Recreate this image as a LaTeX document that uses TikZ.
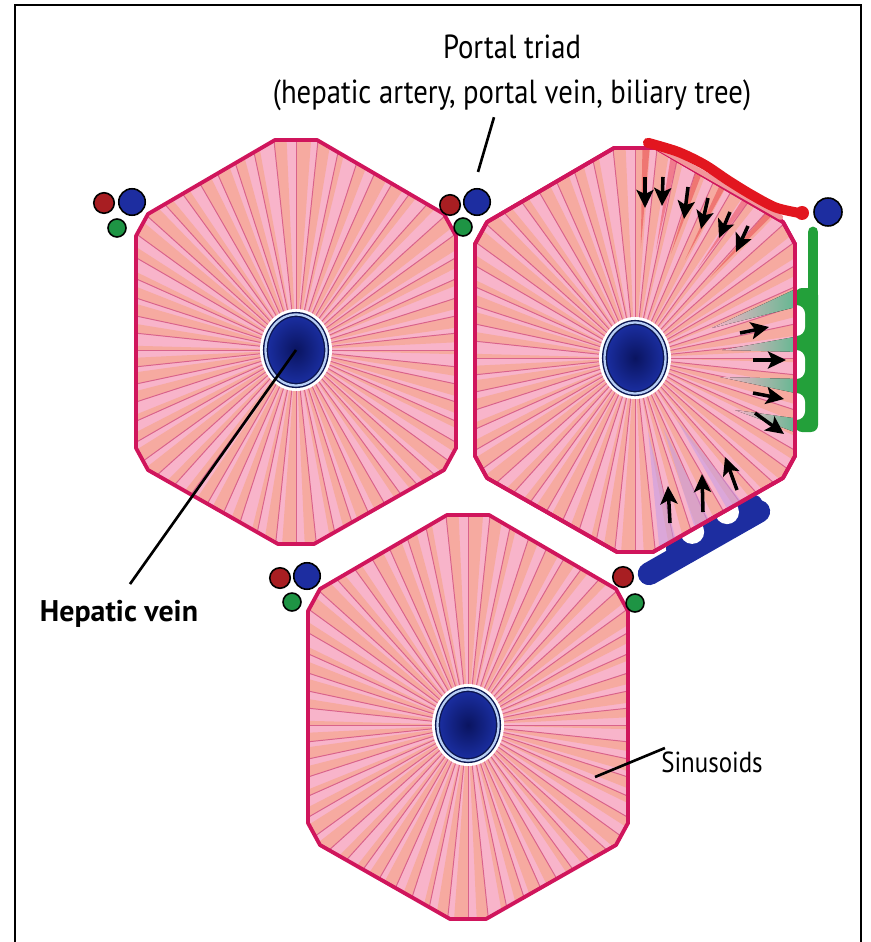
\documentclass[tikz,border=0pt]{standalone}
\usepackage{fontspec}
\setmainfont{PT Sans}
\newfontfamily\narrowsans[FakeStretch=0.86]{PT Sans}
\usetikzlibrary{shapes.geometric,arrows.meta,calc}

\definecolor{LobulePink}{HTML}{F8B4CA}
\definecolor{LobuleSalmon}{HTML}{F6AAA0}
\definecolor{SinusoidLine}{HTML}{D9628B}
\definecolor{LobuleEdge}{HTML}{D0155C}
\definecolor{VeinBlue}{HTML}{1B2FA3}
\definecolor{VeinDark}{HTML}{0A1460}
\definecolor{VeinNavy}{HTML}{0C1650}
\definecolor{VeinRing}{HTML}{B8CFF5}
\definecolor{ArteryRed}{HTML}{A81E22}
\definecolor{PortalBlue}{HTML}{1D2DA0}
\definecolor{DuctGreen}{HTML}{1E9444}
\definecolor{FlowRed}{HTML}{E2161F}
\definecolor{FlowGreen}{HTML}{23A03A}
\definecolor{FlowTeal}{HTML}{5CB88E}
\definecolor{FlowViolet}{HTML}{C49DE6}

% lobule outline, centred on the lobule
\newcommand{\hexoutline}{(-21,-202) -- (21,-202) -- (148,-128) -- (160,-106) -- (160,106) -- (148,128) -- (18,202) -- (-18,202) -- (-148,128) -- (-160,106) -- (-160,-106) -- (-148,-128) -- cycle}

% one lobule: fill, radiating sinusoids, border and central vein
\newcommand{\lobule}[2]{%
	\begin{scope}[shift={(#2)}]
		\fill[lobule fill] \hexoutline;
		\begin{scope}
			\clip \hexoutline;
			\begin{scope}[shift={(0,8)}]
				\foreach \a in {0,6,...,354}{
					\pgfmathsetmacro{\angb}{\a+1.5+2.6*abs(sin(\a*37))}
					\fill[sinusoid band] (0,0) -- (\a:260) -- (\angb:260) -- cycle;
					\draw[sinusoid line] (\a:30) -- (\a:260);
				}
			\end{scope}
		\end{scope}
		\draw[lobule edge] \hexoutline;
		\fill[white] (0,8) ellipse [x radius=36, y radius=41];
		\node[central vein] (#1) at (0,8) {};
	\end{scope}}

\begin{document}
\begin{tikzpicture}[
	x=0.02cm, y=-0.02cm,
	lobule fill/.style={fill=LobulePink},
	sinusoid band/.style={fill=LobuleSalmon},
	sinusoid line/.style={draw=SinusoidLine, line width=0.55pt},
	lobule edge/.style={draw=LobuleEdge, line width=2.2pt, line join=round},
	central vein/.style={
		ellipse,
		minimum width=1.22cm,
		minimum height=1.42cm,
		inner sep=0,
		draw=VeinNavy,
		line width=0.8pt,
		double=VeinRing,
		double distance=1.3pt,
		inner color=VeinDark,
		outer color=VeinBlue
	},
	artery/.style={circle, draw=black, line width=0.9pt, fill=ArteryRed, minimum size=0.41cm, inner sep=0},
	portal/.style={circle, draw=black, line width=0.9pt, fill=PortalBlue, minimum size=0.53cm, inner sep=0},
	duct/.style={circle, draw=black, line width=0.9pt, fill=DuctGreen, minimum size=0.36cm, inner sep=0},
	flow arrow/.style={-{Stealth[length=3.6mm,width=3.4mm,inset=0.8mm]}, line width=2pt},
	leader/.style={draw=black, line width=1.5pt},
	label text/.style={font=\narrowsans\fontsize{19}{25.5}\selectfont, inner sep=0, align=center},
	frame/.style={draw=black, line width=1.2pt}
	]
	
	% ================= FRAME =================
	\useasboundingbox (0,0) rectangle (870,942);
	\draw[frame] (15,960) -- (15,5) -- (861,5) -- (861,960);
	
	% ================= VESSELS UNDER THE RIGHT LOBULE =================
	% portal vein branch
	\draw[PortalBlue, line width=13pt, line cap=round] (649.2,573.7) -- (758.7,511.4);
	\fill[PortalBlue, rounded corners=4pt] (663.4,546.1) -- (757.3,492.6) -- (765.7,507.4) -- (671.8,560.9) -- cycle;
	\fill[white] (692.2,531.9) circle [radius=12] (727.0,512.1) circle [radius=12];
	% bile duct branch
	\fill[FlowGreen, rounded corners=4pt] (795,288) rectangle (818,432);
	\draw[FlowGreen, line width=6.2pt, line cap=round] (813,232) -- (813,420);
	\fill[white, rounded corners=5pt] (787,305) rectangle (805,336);
	\fill[white, rounded corners=5pt] (787,350) rectangle (805,379);
	\fill[white, rounded corners=5pt] (787,393) rectangle (805,420);
	
	% ================= LOBULES =================
	\lobule{vl}{296,342}
	\lobule{vr}{635,350}
	\lobule{vb}{468,717}
	
	% ================= FLOW IN THE RIGHT LOBULE =================
	\begin{scope}
		\clip[shift={(635,350)}] \hexoutline;
		\begin{scope}[shift={(635,358)}]
			\foreach \a [evaluate=\a as \al using \a-1, evaluate=\a as \ar using \a+1] in {-87,-79,-71,-63,-55,-47}
				\fill[FlowRed, opacity=.35] (\a:110) -- (\al:215) -- (\ar:215) -- cycle;
			\foreach \a [evaluate=\a as \al using \a-3, evaluate=\a as \ar using \a+3] in {80,68,56}
				\fill[FlowViolet, opacity=.55] (\a:75) -- (\al:230) -- (\ar:230) -- cycle;
		\end{scope}
		\fill[left color=LobulePink, right color=FlowTeal] (712,328) -- (800,287) -- (800,306) -- cycle;
		\fill[left color=LobulePink, right color=FlowTeal] (722,350) -- (800,336) -- (800,352) -- cycle;
		\fill[left color=LobulePink, right color=FlowTeal] (720,377) -- (800,379) -- (800,394) -- cycle;
		\fill[left color=LobulePink, right color=FlowTeal] (735,410) -- (800,419) -- (800,434) -- cycle;
	\end{scope}
	\draw[lobule edge, shift={(635,350)}] \hexoutline;
	
	% hepatic artery branch along the upper edge
	\draw[FlowRed!45, line width=3pt, line cap=round] (654.5,145.4) -- (780.5,217.2);
	\draw[FlowRed, line width=5.7pt, line cap=round, line join=round]
		plot[smooth] coordinates {(647.9,142.8) (677.9,151.8) (704.4,164.6) (728.1,180.4) (751.5,194.8) (775.7,207.5) (799.4,213)};
	\fill[FlowRed] (802,213) circle [radius=7];
	
	% blood in, bile out
	\foreach \xa/\ya/\xb/\yb in {645/177/645/208, 663/177/662/206, 688/187/684/219, 708/198/701/229, 730/212/719/238, 748/226/736/252}
		\draw[flow arrow] (\xa,\ya) -- (\xb,\yb);
	\foreach \xa/\ya/\xb/\yb in {740/333/769/327, 753/360/786/360, 753/393/784/399, 755/413/784/434}
		\draw[flow arrow] (\xa,\ya) -- (\xb,\yb);
	\foreach \xa/\ya/\xb/\yb in {670/523/668/486, 703/512/702/474, 737/490/725/457}
		\draw[flow arrow] (\xa,\ya) -- (\xb,\yb);
	
	% ================= PORTAL TRIADS =================
	\node[portal] (pv1) at (132,202) {};
	\node[artery] (ha1) at (104,203) {};
	\node[duct] (bd1) at (117,228) {};
	
	\node[portal] (pv2) at (477,202) {};
	\node[artery] (ha2) at (450,205) {};
	\node[duct] (bd2) at (463,227) {};
	
	\node[portal] (pv3) at (307,576) {};
	\node[artery] (ha3) at (280,578) {};
	\node[duct] (bd3) at (292,602) {};
	
	\node[artery] (ha4) at (623,577) {};
	\node[duct] (bd4) at (635,603) {};
	
	\node[portal, minimum size=0.56cm] (pv5) at (828,212) {};
	
	% ================= LABELS =================
	\node[label text] (pt) at (512,73) {Portal triad\\(hepatic artery, portal vein, biliary tree)};
	\node[label text, font=\fontsize{17}{20}\selectfont\bfseries] (hv) at (119,614) {Hepatic vein};
	\node[label text, font=\narrowsans\fontsize{16.5}{20}\selectfont] (sn) at (712,762) {Sinusoids};
	\coordinate (sinus) at (595,777);
	
	\draw[leader] ($(pv2.north)+(1,-16)$) -- ($(pt.south)+(-18,6)$);
	\draw[leader] (vl.center) -- ($(hv.north)+(11,-16)$);
	\draw[leader] (sinus) -- ($(sn.west)+(4,-14)$);
	
\end{tikzpicture}
\end{document}
